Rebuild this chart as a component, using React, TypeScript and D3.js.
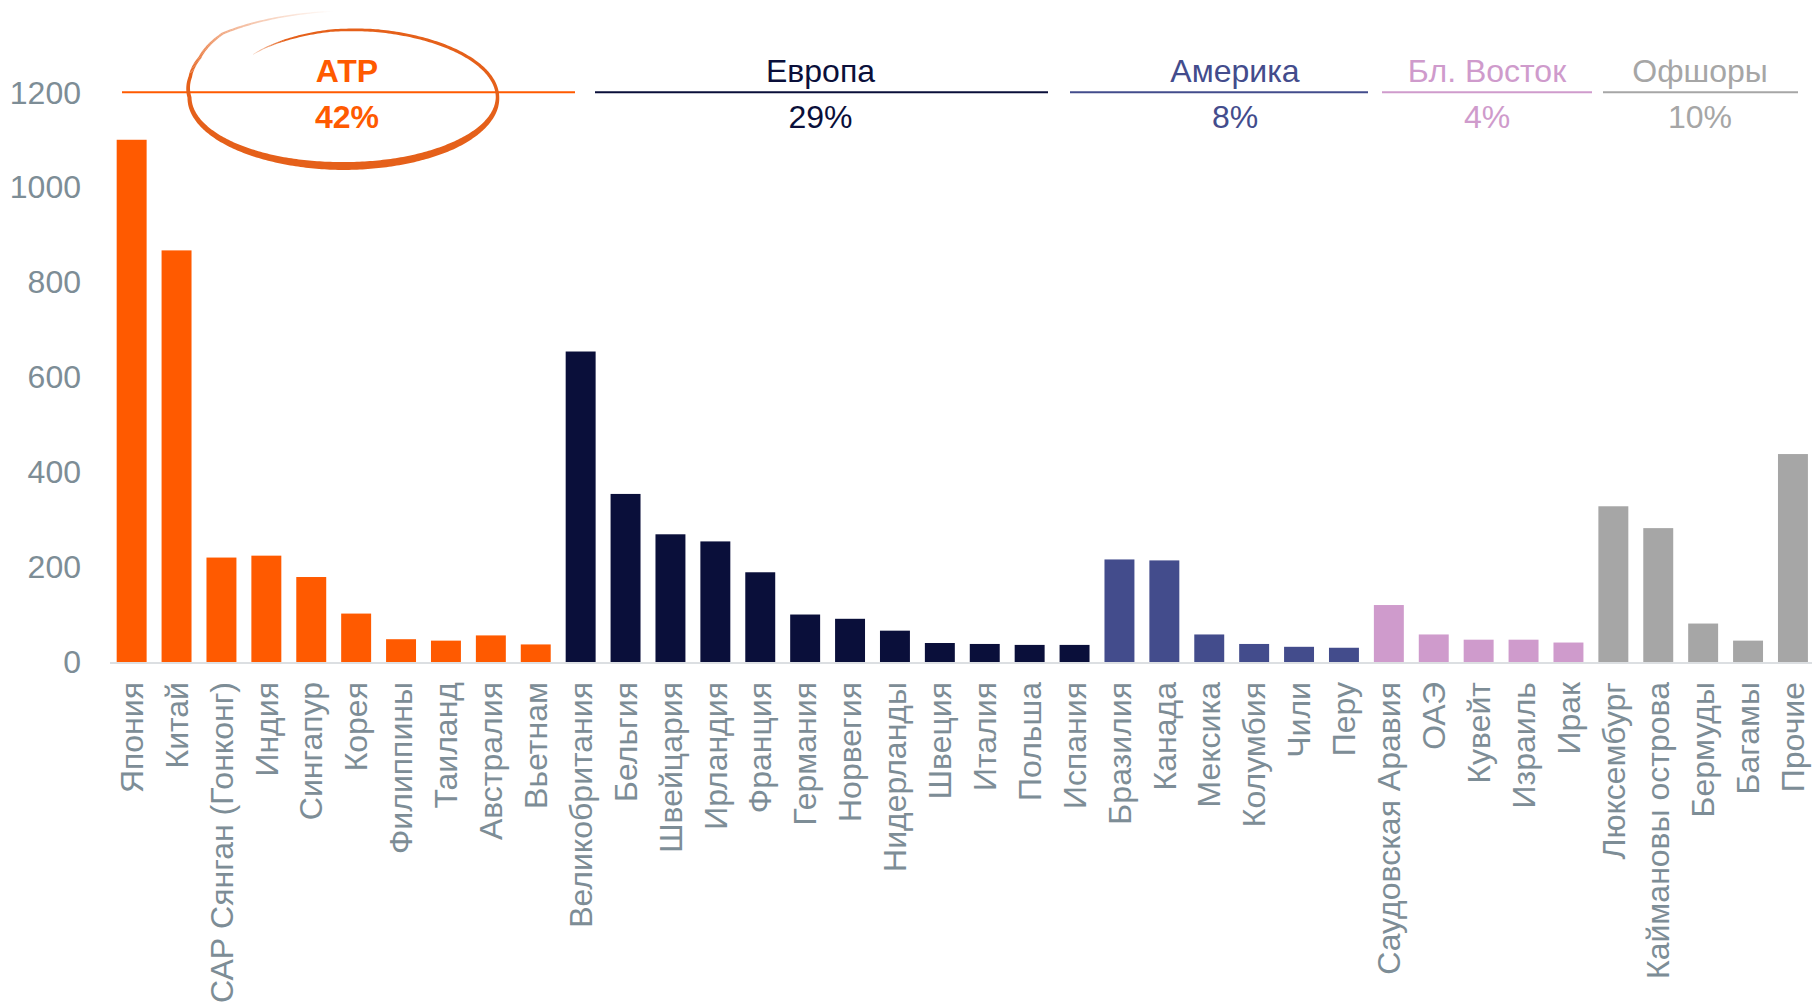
import React from "react";
import * as d3 from "d3";

const categories = [
  "Япония", "Китай", "САР Сянган (Гонконг)", "Индия", "Сингапур", "Корея", "Филиппины", "Таиланд", "Австралия", "Вьетнам",
  "Великобритания", "Бельгия", "Швейцария", "Ирландия", "Франция", "Германия", "Норвегия", "Нидерланды", "Швеция", "Италия", "Польша", "Испания",
  "Бразилия", "Канада", "Мексика", "Колумбия", "Чили", "Перу",
  "Саудовская Аравия", "ОАЭ", "Кувейт", "Израиль", "Ирак",
  "Люксембург", "Каймановы острова", "Бермуды", "Багамы", "Прочие",
];

const values = [
  1100, 867, 220, 224, 179, 102, 48, 45, 56, 37,
  654, 354, 269, 254, 189, 100, 91, 66, 40, 38, 36, 36,
  216, 214, 58, 38, 32, 30,
  120, 58, 47, 47, 41,
  328, 282, 81, 45, 438,
];

const groupNames = ["АТР", "Европа", "Америка", "Бл. Восток", "Офшоры"];
const groupShares = ["42%", "29%", "8%", "4%", "10%"];
const groupSizes = [10, 12, 6, 5, 5];
const groupColors = ["#ff5a00", "#0a0f3a", "#434c8c", "#cf9bcc", "#a6a6a6"];

const yTicks = [0, 200, 400, 600, 800, 1000, 1200];

// layout (pixels)
const W = 1812;
const H = 1005;
const headerSpans: [number, number][] = [
  [122, 575],
  [595, 1048],
  [1070, 1368],
  [1382, 1592],
  [1603, 1798],
];
const headerTextX = [347, 820.5, 1235, 1487, 1700];
const FONT = "'Liberation Sans', Arial, Helvetica, sans-serif";
const AXIS_TEXT = "#7d8d96";
const PEN = "#e5601a";

// hand-drawn ellipse: spiral-ish stroke with varying radius scale, width and opacity (angles in degrees)
const ELL = { cx: 343.5, cy: 97.5, rx: 154, ry: 68.5 };
const scaleKeys: [number, number][] = [
  [-133, 0.86], [-117, 0.91], [-95, 0.98], [-77, 1.0], [180, 1.0], [197, 1.04], [212, 1.1], [230, 1.22], [267, 1.26],
];
const widthKeys: [number, number][] = [
  [-133, 0.6], [-110, 2], [-80, 2.8], [0, 3.5], [45, 7], [90, 8], [135, 6], [180, 4], [210, 3], [267, 1],
];
const opacityKeys: [number, number][] = [
  [-133, 0.25], [-115, 1], [200, 1], [235, 0.45], [267, 0],
];

function interp(keys: [number, number][], t: number) {
  if (t <= keys[0][0]) return keys[0][1];
  for (let i = 1; i < keys.length; i++) {
    if (t <= keys[i][0]) {
      const [a, va] = keys[i - 1];
      const [b, vb] = keys[i];
      return va + ((vb - va) * (t - a)) / (b - a);
    }
  }
  return keys[keys.length - 1][1];
}

function penStroke() {
  const center = (deg: number) => {
    const r = (deg * Math.PI) / 180;
    const s = interp(scaleKeys, deg);
    return [ELL.cx + ELL.rx * s * Math.cos(r), ELL.cy + ELL.ry * s * Math.sin(r)];
  };
  const steps = d3.range(-133, 267.01, 1);
  const edges = steps.map((deg) => {
    const [x0, y0] = center(deg - 0.5);
    const [x1, y1] = center(deg + 0.5);
    const [px, py] = center(deg);
    let tx = x1 - x0;
    let ty = y1 - y0;
    const len = Math.hypot(tx, ty) || 1;
    tx /= len;
    ty /= len;
    const nx = -ty;
    const ny = tx;
    const w = interp(widthKeys, deg) / 2;
    return { deg, a: [px + nx * w, py + ny * w], b: [px - nx * w, py - ny * w] };
  });
  const pieces: { d: string; op: number }[] = [];
  const opaque = edges.filter((e) => interp(opacityKeys, e.deg) >= 0.999);
  if (opaque.length > 1) {
    const pts = opaque.map((e) => e.a).concat(opaque.map((e) => e.b).reverse());
    pieces.push({ d: "M" + pts.map((p) => p.join(",")).join("L") + "Z", op: 1 });
  }
  for (let i = 0; i < edges.length - 1; i++) {
    const e0 = edges[i];
    const e1 = edges[i + 1];
    const op = interp(opacityKeys, (e0.deg + e1.deg) / 2);
    if (op >= 0.999) continue;
    const pts = [e0.a, e1.a, e1.b, e0.b];
    pieces.push({ d: "M" + pts.map((p) => p.join(",")).join("L") + "Z", op });
  }
  return pieces;
}

export default function App() {
  const groupIndex: number[] = [];
  groupSizes.forEach((n, g) => {
    for (let i = 0; i < n; i++) groupIndex.push(g);
  });

  const x = d3
    .scaleBand<string>()
    .domain(categories)
    .range([109.2, 109.2 + 38 * 44.9])
    .paddingInner(0.333)
    .paddingOuter(0.1665);

  const y = d3.scaleLinear().domain([0, 1200]).range([662, 92.3]);

  const pen = penStroke();

  return (
    <div style={{ position: "absolute", left: 0, top: 0 }}>
      <svg width={W} height={H} style={{ display: "block", background: "#fff" }} fontFamily={FONT}>
        {yTicks.map((t) => (
          <text key={t} x={81} y={y(t)} dy="0.35em" textAnchor="end" fontSize={32} fill={AXIS_TEXT}>
            {t}
          </text>
        ))}

        {categories.map((c, i) => (
          <rect
            key={c}
            x={x(c)}
            y={y(values[i])}
            width={x.bandwidth()}
            height={y(0) - y(values[i])}
            fill={groupColors[groupIndex[i]]}
          />
        ))}

        <line x1={110} x2={W} y1={y(0) + 1} y2={y(0) + 1} stroke="#dcdfe2" strokeWidth={2} />

        {categories.map((c) => {
          const cx = (x(c) as number) + x.bandwidth() / 2;
          const ty = y(0) + 20;
          return (
            <text
              key={c}
              transform={`translate(${cx},${ty}) rotate(-90)`}
              textAnchor="end"
              dy="0.35em"
              fontSize={32}
              fill={AXIS_TEXT}
            >
              {c}
            </text>
          );
        })}

        {groupNames.map((g, gi) => {
          const [a, b] = headerSpans[gi];
          const mid = headerTextX[gi];
          const bold = gi === 0;
          return (
            <g key={g}>
              <line x1={a} x2={b} y1={y(1200)} y2={y(1200)} stroke={groupColors[gi]} strokeWidth={2} />
              <text x={mid} y={82} textAnchor="middle" fontSize={32} fontWeight={bold ? 700 : 400} fill={groupColors[gi]}>
                {g}
              </text>
              <text x={mid} y={128} textAnchor="middle" fontSize={32} fontWeight={bold ? 700 : 400} fill={groupColors[gi]}>
                {groupShares[gi]}
              </text>
            </g>
          );
        })}

        <g fill={PEN}>
          {pen.map((p, i) => (
            <path key={i} d={p.d} fillOpacity={p.op} stroke="none" />
          ))}
        </g>
      </svg>
    </div>
  );
}
